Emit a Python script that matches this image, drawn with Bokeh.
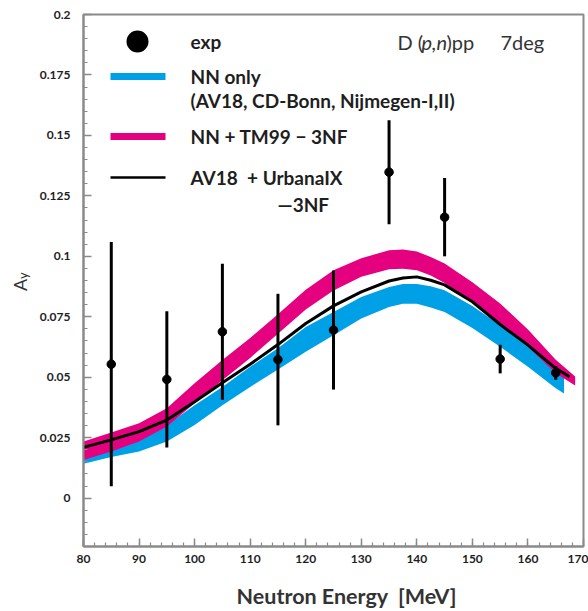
from bokeh.plotting import figure
from bokeh.models import FixedTicker, Label, BoxAnnotation, LinearAxis
from bokeh.embed import file_html
from bokeh.resources import INLINE

# ---------------- data ----------------
exp_energy = [85, 95, 105, 115, 125, 135, 145, 155, 165]
exp_ay = [0.0554, 0.0491, 0.0688, 0.0573, 0.0695, 0.1348, 0.1162, 0.0575, 0.0518]
exp_err = [0.0505, 0.0282, 0.0281, 0.0272, 0.0246, 0.0215, 0.0162, 0.0059, 0.0028]

nn_energy = [80, 85, 90, 95, 100, 105, 110, 115, 120, 125, 130, 135, 137.5, 140, 142.5, 145, 150, 155, 160, 165, 166.5]
nn_upper = [0.0195, 0.0222, 0.0255, 0.0302, 0.0384, 0.0460, 0.0543, 0.0620, 0.0708, 0.0770, 0.0832, 0.0873, 0.0886, 0.0886, 0.0876, 0.0860, 0.0795, 0.0715, 0.0626, 0.0529, 0.0509]
nn_lower = [0.0142, 0.0170, 0.0193, 0.0234, 0.0302, 0.0384, 0.0460, 0.0532, 0.0605, 0.0674, 0.0743, 0.0790, 0.0804, 0.0804, 0.0788, 0.0770, 0.0704, 0.0626, 0.0543, 0.0454, 0.0433]

tm_energy = [80, 85, 90, 95, 100, 105, 110, 115, 120, 125, 130, 135, 137.5, 140, 142.5, 145, 150, 155, 160, 165, 168.5]
tm_upper = [0.0234, 0.0271, 0.0310, 0.0372, 0.0475, 0.0571, 0.0662, 0.0760, 0.0862, 0.0942, 0.0992, 0.1025, 0.1028, 0.1020, 0.0997, 0.0970, 0.0893, 0.0805, 0.0697, 0.0572, 0.0503]
tm_lower = [0.0158, 0.0193, 0.0234, 0.0296, 0.0392, 0.0488, 0.0580, 0.0680, 0.0780, 0.0859, 0.0915, 0.0947, 0.0949, 0.0942, 0.0921, 0.0890, 0.0810, 0.0722, 0.0626, 0.0516, 0.0466]

uix_energy = [80, 85, 90, 95, 100, 105, 110, 115, 120, 125, 130, 135, 137.5, 140, 142.5, 145, 150, 155, 160, 165, 167.5]
uix_ay = [0.0210, 0.0241, 0.0275, 0.0323, 0.0399, 0.0477, 0.0554, 0.0635, 0.0722, 0.0795, 0.0853, 0.0898, 0.0910, 0.0915, 0.0901, 0.0882, 0.0812, 0.0718, 0.0633, 0.0537, 0.0502]

x_ticks = [80, 90, 100, 110, 120, 130, 140, 150, 160, 170]
x_minor = list(range(80, 171, 2))
y_ticks = [0, 0.025, 0.05, 0.075, 0.1, 0.125, 0.15, 0.175, 0.2]
y_tick_labels = ["0", "0.025", "0.05", "0.075", "0.1", "0.125", "0.15", "0.175", "0.2"]
y_minor = [round(-0.02 + 0.005 * i, 3) for i in range(45)]

NBSP = "\u00a0"
legend_labels = ["exp", "NN only", "(AV18, CD-Bonn, Nijmegen-I,II)",
                 "NN + TM99 \u2212 3NF", "AV18" + NBSP + " + UrbanaIX", "\u20143NF"]
x_title = NBSP * 5 + "Neutron Energy" + NBSP + " [MeV]"
y_title_main = "A"
y_title_sub = "y"

# ---------------- styles ----------------
BLUE = "#00a0e6"
PINK = "#e4007f"
GREY = "#8a8a8a"
TXT = "#1e1e1e"
FONT = "Lato"

p = figure(width=588, height=611, x_range=(80, 170), y_range=(-0.02, 0.2),
           output_backend="svg", toolbar_location=None,
           min_border_left=83, min_border_right=5, min_border_top=14, min_border_bottom=64,
           background_fill_color="white", border_fill_color="white")
p.grid.visible = False
p.outline_line_color = GREY
p.outline_line_width = 2

for ax in (p.xaxis[0], p.yaxis[0]):
    ax.axis_line_color = GREY
    ax.axis_line_width = 2
    ax.major_tick_in = 8
    ax.major_tick_out = 0
    ax.minor_tick_in = 4
    ax.minor_tick_out = 0
    ax.major_tick_line_color = GREY
    ax.minor_tick_line_color = GREY
    ax.major_tick_line_width = 1.5
    ax.minor_tick_line_width = 1.2
    ax.major_label_text_font = FONT
    ax.major_label_text_font_style = "bold"
    ax.major_label_text_font_size = "12px"
    ax.major_label_text_color = TXT

p.xaxis.ticker = FixedTicker(ticks=x_ticks, minor_ticks=x_minor)
p.xaxis.major_label_standoff = 8
p.xaxis.axis_label = x_title
p.xaxis.axis_label_text_font = FONT
p.xaxis.axis_label_text_font_style = "bold"
p.xaxis.axis_label_text_font_size = "21.5px"
p.xaxis.axis_label_text_color = "#333333"
p.xaxis.axis_label_standoff = 17

p.yaxis.ticker = FixedTicker(ticks=y_ticks, minor_ticks=y_minor)
p.yaxis.major_label_overrides = {t: s for t, s in zip(y_ticks, y_tick_labels)}
p.yaxis.major_label_standoff = 13
# subscript "y" of A_y sits on the main axis (closest to the plot)
p.yaxis.axis_label = NBSP * 3 + y_title_sub
p.yaxis.axis_label_text_font = FONT
p.yaxis.axis_label_text_font_style = "normal"
p.yaxis.axis_label_text_font_size = "13px"
p.yaxis.axis_label_text_color = "#333333"
p.yaxis.axis_label_standoff = 6

# the "A" of A_y on an outer, otherwise invisible axis
a_axis = LinearAxis(ticker=FixedTicker(ticks=[]), axis_line_color=None,
                    major_tick_line_color=None, minor_tick_line_color=None,
                    major_label_text_font_size="0px",
                    axis_label=y_title_main + NBSP * 2, axis_label_text_font=FONT,
                    axis_label_text_font_size="18px", axis_label_text_font_style="normal",
                    axis_label_text_color="#333333", axis_label_standoff=-19)
p.add_layout(a_axis, "left")

# theory bands and line
p.varea(x=nn_energy, y1=nn_lower, y2=nn_upper, fill_color=BLUE)
p.varea(x=tm_energy, y1=tm_lower, y2=tm_upper, fill_color=PINK)
p.line(uix_energy, uix_ay, line_color="black", line_width=3)

# experimental data
lo = [a - e for a, e in zip(exp_ay, exp_err)]
hi = [a + e for a, e in zip(exp_ay, exp_err)]
p.segment(x0=exp_energy, y0=lo, x1=exp_energy, y1=hi, line_color="black", line_width=3)
p.scatter(exp_energy, exp_ay, size=8.5, color="black")

# ---------------- legend (hand-built, positions relative to frame) ----------------
FL, FB = 83, 547  # frame left / bottom in canvas px


def sx(px):
    return px - FL


def sy(py):
    return FB - py


def box(x0, x1, yc, h, color, radius=0):
    p.add_layout(BoxAnnotation(left=sx(x0), right=sx(x1), top=sy(yc - h / 2), bottom=sy(yc + h / 2),
                               left_units="screen", right_units="screen",
                               top_units="screen", bottom_units="screen",
                               fill_color=color, fill_alpha=1, line_alpha=0,
                               border_radius=radius))


box(126, 148, 42, 22, "black", radius=11)
box(110, 165, 77, 7, BLUE)
box(110, 165, 137, 7, PINK)
box(110, 165, 178, 2.5, "black")


def label(text, px, py, size="19px", style="bold", align="left", color=TXT):
    p.add_layout(Label(x=sx(px), y=sy(py), x_units="screen", y_units="screen", text=text,
                       text_font=FONT, text_font_size=size, text_font_style=style,
                       text_color=color, text_align=align, text_baseline="middle"))


label(legend_labels[0], 190, 42)
label(legend_labels[1], 190, 77)
label(legend_labels[2], 190, 101)
label(legend_labels[3], 190, 137)
label(legend_labels[4], 190, 178)
label(legend_labels[5], 277, 205)

# reaction title
label("D (", 397, 42, size="20px", style="normal", color="#333333")
label("p,n", 421, 42, size="20px", style="italic", color="#333333")
label(")pp", 446, 42, size="20px", style="normal", color="#333333")
label("7deg", 500, 42, size="20px", style="normal", color="#333333")

open("out.html", "w").write(file_html(p, INLINE))
